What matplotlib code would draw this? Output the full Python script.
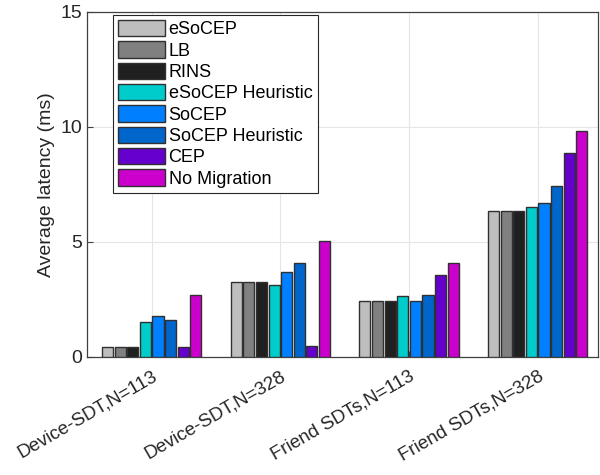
import matplotlib
matplotlib.use('Agg')
import matplotlib.pyplot as plt
import numpy as np

groups = ['Device-SDT,N=113', 'Device-SDT,N=328', 'Friend SDTs,N=113', 'Friend SDTs,N=328']
methods = ['eSoCEP', 'LB', 'RINS', 'eSoCEP Heuristic', 'SoCEP',
           'SoCEP Heuristic', 'CEP', 'No Migration']
colors = ['#bebebe', '#808080', '#202020', '#00cccc', '#0080ff',
          '#0066cc', '#6600cc', '#cc00cc']

# latency (ms) per method, one value per group
latency = {
    'eSoCEP':           [0.43, 3.25, 2.41, 6.32],
    'LB':               [0.43, 3.25, 2.41, 6.32],
    'RINS':             [0.43, 3.25, 2.41, 6.32],
    'eSoCEP Heuristic': [1.52, 3.10, 2.64, 6.51],
    'SoCEP':            [1.77, 3.68, 2.41, 6.67],
    'SoCEP Heuristic':  [1.61, 4.06, 2.67, 7.41],
    'CEP':              [0.43, 0.48, 3.54, 8.84],
    'No Migration':     [2.70, 5.02, 4.06, 9.80],
}

plt.rcParams['font.family'] = ['Liberation Sans', 'DejaVu Sans']

fig = plt.figure(figsize=(6, 4.75), dpi=100)
ax = fig.add_axes([0.145, 0.249, 0.852, 0.726])

x = np.arange(1, len(groups) + 1)
pitch = 0.098
width = 0.086
for i, m in enumerate(methods):
    off = (i - (len(methods) - 1) / 2) * pitch
    ax.bar(x + off, latency[m], width, color=colors[i], edgecolor='#303030',
           linewidth=1.0, label=m, zorder=3)

ax.set_xlim(0.497, 4.47)
ax.set_ylim(0, 15)
ax.set_yticks([0, 5, 10, 15])
ax.set_xticks(x)
ax.set_xticklabels(groups, rotation=30, ha='right', va='top',
                   rotation_mode='anchor', fontsize=13.5)
ax.tick_params(axis='x', pad=8)
ax.tick_params(axis='y', labelsize=14)
ax.tick_params(direction='in', length=4, color='#404040', labelcolor='#262626')
ax.set_ylabel('Average latency (ms)', fontsize=14, color='#262626')
ax.grid(True, color='#e6e6e6', linewidth=0.8, zorder=0)
ax.set_axisbelow(True)
for s in ax.spines.values():
    s.set_color('#404040')
    s.set_linewidth(0.9)

leg = ax.legend(loc='upper left', bbox_to_anchor=(0.05, 0.992), fontsize=13,
                handlelength=2.6, handleheight=1.0, handletextpad=0.2,
                labelspacing=0.17, borderpad=0.3, borderaxespad=0.0,
                fancybox=False, framealpha=1, edgecolor='#262626')
leg.get_frame().set_linewidth(0.8)

fig.savefig('out.png', dpi=100)
